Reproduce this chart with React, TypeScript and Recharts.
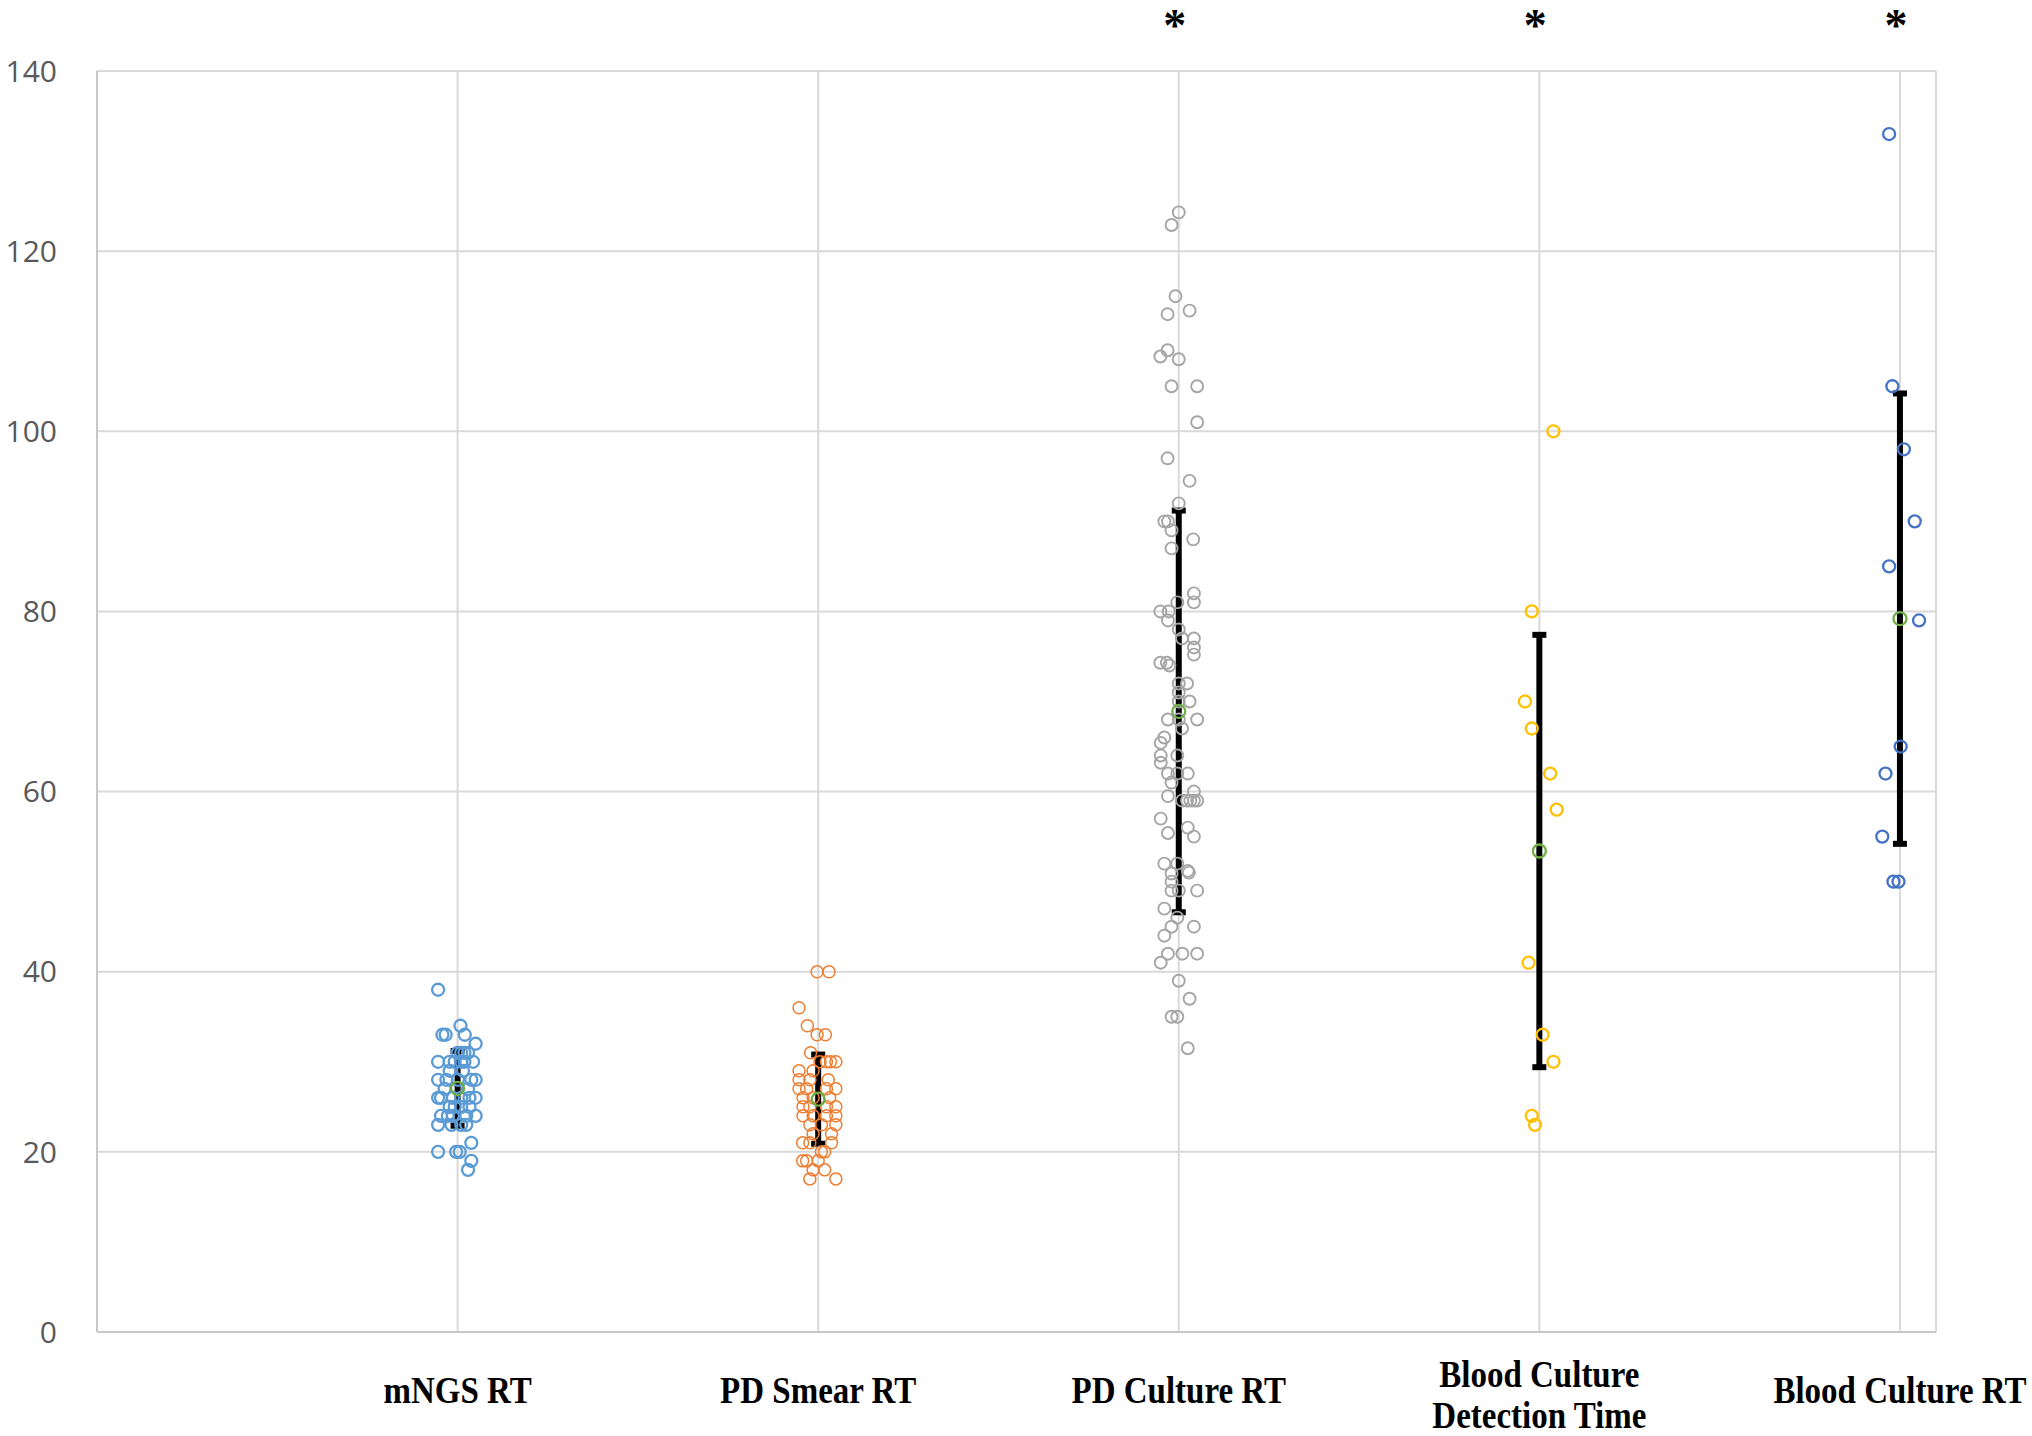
import { ScatterChart, Scatter, XAxis, YAxis, CartesianGrid, ErrorBar } from 'recharts';

const categories = ['mNGS RT', 'PD Smear RT', 'PD Culture RT', 'Blood Culture\nDetection Time', 'Blood Culture RT'];
const yTicks = [0, 20, 40, 60, 80, 100, 120, 140];
const xTicks = [0, 1, 2, 3, 4, 5];

// individual results: x = category position with jitter, y = hours
const mngsX = [0.946, 1.008, 0.958, 0.967, 1.02, 1.05, 1.0, 1.01, 1.019, 1.029, 0.946, 0.978, 0.992, 1.01, 1.019, 1.043,
  0.978, 1.015, 0.946, 0.969, 1.001, 1.038, 1.05, 0.964, 1.029, 0.946, 0.954, 0.987, 1.01, 1.033, 1.05,
  0.978, 0.992, 1.01, 1.033, 0.954, 0.973, 0.987, 1.024, 1.05, 0.946, 0.983, 1.01, 1.024, 1.038, 0.946, 0.996, 1.006, 1.038, 1.029];
const mngsY = [38, 34, 33, 33, 33, 32, 31, 31, 31, 31, 30, 30, 30, 30, 30, 30,
  29, 29, 28, 28, 28, 28, 28, 27, 27, 26, 26, 26, 26, 26, 26,
  25, 25, 25, 25, 24, 24, 24, 24, 24, 23, 23, 23, 23, 21, 20, 20, 20, 19, 18];

const smearX = [1.997, 2.03, 1.947, 1.97, 1.997, 2.02, 1.979, 2.005, 2.023, 2.034, 2.049, 1.947, 1.986, 1.947, 1.977, 2.028,
  1.947, 1.968, 2.023, 2.049, 1.958, 1.986, 2.032, 1.958, 1.977, 2.023, 2.049, 1.958, 1.986, 2.023, 2.049,
  1.977, 2.009, 2.049, 1.986, 2.037, 1.957, 1.977, 2.037, 2.009, 2.018, 1.957, 1.968, 2.0, 1.986, 2.018, 1.977, 2.049];
const smearY = [40, 40, 36, 34, 33, 33, 31, 30, 30, 30, 30, 29, 29, 28, 28, 28,
  27, 27, 27, 27, 26, 26, 26, 25, 25, 25, 25, 24, 24, 24, 24,
  23, 23, 23, 22, 22, 21, 21, 21, 20, 20, 19, 19, 19, 18, 18, 17, 17];

const cultureX = [3.0, 2.98, 2.991, 2.969, 3.03, 2.969, 2.949, 3.0, 2.98, 3.051, 3.051, 2.969, 3.03, 3.0, 2.96, 2.97,
  2.98, 3.04, 2.98, 3.042, 3.042, 2.996, 2.949, 2.972, 2.97, 3.0, 3.009, 3.042, 3.042, 3.042, 2.949, 2.967, 2.974,
  3.0, 3.023, 3.0, 3.0, 3.03, 3.0, 2.97, 3.051, 3.009, 2.96, 2.95, 2.95, 2.996, 2.95, 2.97, 2.996, 3.025, 2.98,
  3.042, 2.97, 3.009, 3.023, 3.032, 3.042, 3.051, 2.95, 3.025, 2.97, 3.042, 2.96, 2.996, 3.025, 3.028, 2.98, 2.98,
  2.98, 3.0, 3.051, 2.96, 2.996, 2.98, 3.042, 2.96, 2.97, 3.01, 3.051, 2.95, 3.0, 3.03, 2.98, 2.996, 3.025];
const cultureY = [124.3, 122.9, 115, 113, 113.4, 109, 108.3, 108, 105, 105, 101, 97, 94.5, 92, 90, 90,
  89, 88, 87, 82, 81, 81, 80, 80, 79, 78, 77, 77, 76, 75.2, 74.3, 74.3, 74,
  72, 72, 71, 70, 70, 68, 68, 68, 67, 66, 65.4, 64, 64, 63.2, 62, 62, 62, 61,
  60, 59.5, 59, 59, 59, 59, 59, 57, 56, 55.4, 55, 52, 52, 51.2, 51, 50.9, 50,
  49, 49, 49, 47, 46, 45, 45, 44, 42, 42, 42, 41, 39, 37, 35, 35, 31.5];

const bcdtX = [4.039, 3.979, 3.96, 3.979, 4.03, 4.048, 3.97, 4.009, 4.039, 3.979, 3.988];
const bcdtY = [100, 80, 70, 67, 62, 58, 41, 33, 30, 24, 23];

const bcrtX = [4.97, 4.979, 5.011, 5.041, 4.97, 5.053, 5.002, 4.96, 4.951, 4.982, 4.996];
const bcrtY = [133, 105, 98, 90, 85, 79, 65, 62, 55, 50, 50];

// mean ± SD per group
const means = [27.05, 25.85, 68.9, 53.4, 79.2];
const sds = [4.15, 4.95, 22.3, 24.0, 25.0];
const significant = [false, false, true, true, true];

const zip = (xs: number[], ys: number[]) => xs.map((x, i) => ({ x, y: ys[i] }));
const summary = means.map((m, i) => ({ x: i + 1, y: m, sd: sds[i] }));
const stars = significant.map((s, i) => ({ x: i + 1, y: 140, s })).filter((d) => d.s);

const ring = (color: string, r: number, w: number) => (p: any) => (
  <circle cx={p.cx} cy={p.cy} r={r} fill="none" stroke={color} strokeWidth={w} />
);

const XTick = (p: any) => {
  const label = categories[p.payload.value - 1];
  if (!label) return <g />;
  const lines = label.split('\n');
  const base = lines.length > 1 ? 46 : 60;
  return (
    <g transform={`translate(${p.x},${p.y}) scale(1,1.15)`}>
      <text x={0} y={0} textAnchor="middle" fontFamily="'Liberation Serif', 'Times New Roman', serif"
        fontWeight="bold" fontSize={33} fill="#000">
        {lines.map((l: string, i: number) => (
          <tspan key={i} x={0} y={base + i * 36}>{l}</tspan>
        ))}
      </text>
    </g>
  );
};

export default function App() {
  return (
    <div style={{ position: 'absolute', left: 0, top: 0, background: '#fff' }}>
      <ScatterChart width={2032} height={1436} margin={{ top: 71, right: 96, left: 0, bottom: 0 }}>
        <CartesianGrid stroke="#d9d9d9" strokeWidth={2} />
        <XAxis type="number" dataKey="x" domain={[0, 5.1]} ticks={xTicks} height={104}
          axisLine={{ stroke: '#c8c8c8', strokeWidth: 2 }} tickLine={false} tickSize={0} tick={XTick} />
        <YAxis type="number" dataKey="y" domain={[0, 140]} ticks={yTicks} width={97}
          axisLine={{ stroke: '#c8c8c8', strokeWidth: 2 }} tickLine={false} tickSize={0} tickMargin={40}
          tick={{ fontFamily: "'Open Sans', sans-serif", fontSize: 30, fill: '#595959' }} />
        <Scatter data={summary} shape={() => <g />} isAnimationActive={false}>
          <ErrorBar dataKey="sd" direction="y" width={7} strokeWidth={6} stroke="#000" isAnimationActive={false} />
        </Scatter>
        <Scatter data={zip(mngsX, mngsY)} shape={ring('#5B9BD5', 6, 2.3)} isAnimationActive={false} />
        <Scatter data={zip(smearX, smearY)} shape={ring('#ED7D31', 6, 1.5)} isAnimationActive={false} />
        <Scatter data={zip(cultureX, cultureY)} shape={ring('#A5A5A5', 6, 1.9)} isAnimationActive={false} />
        <Scatter data={zip(bcdtX, bcdtY)} shape={ring('#FFC000', 6, 2.3)} isAnimationActive={false} />
        <Scatter data={zip(bcrtX, bcrtY)} shape={ring('#4472C4', 6, 2.3)} isAnimationActive={false} />
        <Scatter data={summary} shape={ring('#70AD47', 6.5, 2.3)} isAnimationActive={false} />
        <Scatter data={stars} isAnimationActive={false}
          shape={(p: any) => (
            <text x={p.cx - 4} y={p.cy - 30} textAnchor="middle" fontFamily="'Liberation Serif', serif"
              fontWeight="bold" fontSize={46} fill="#000">*</text>
          )} />
      </ScatterChart>
    </div>
  );
}
